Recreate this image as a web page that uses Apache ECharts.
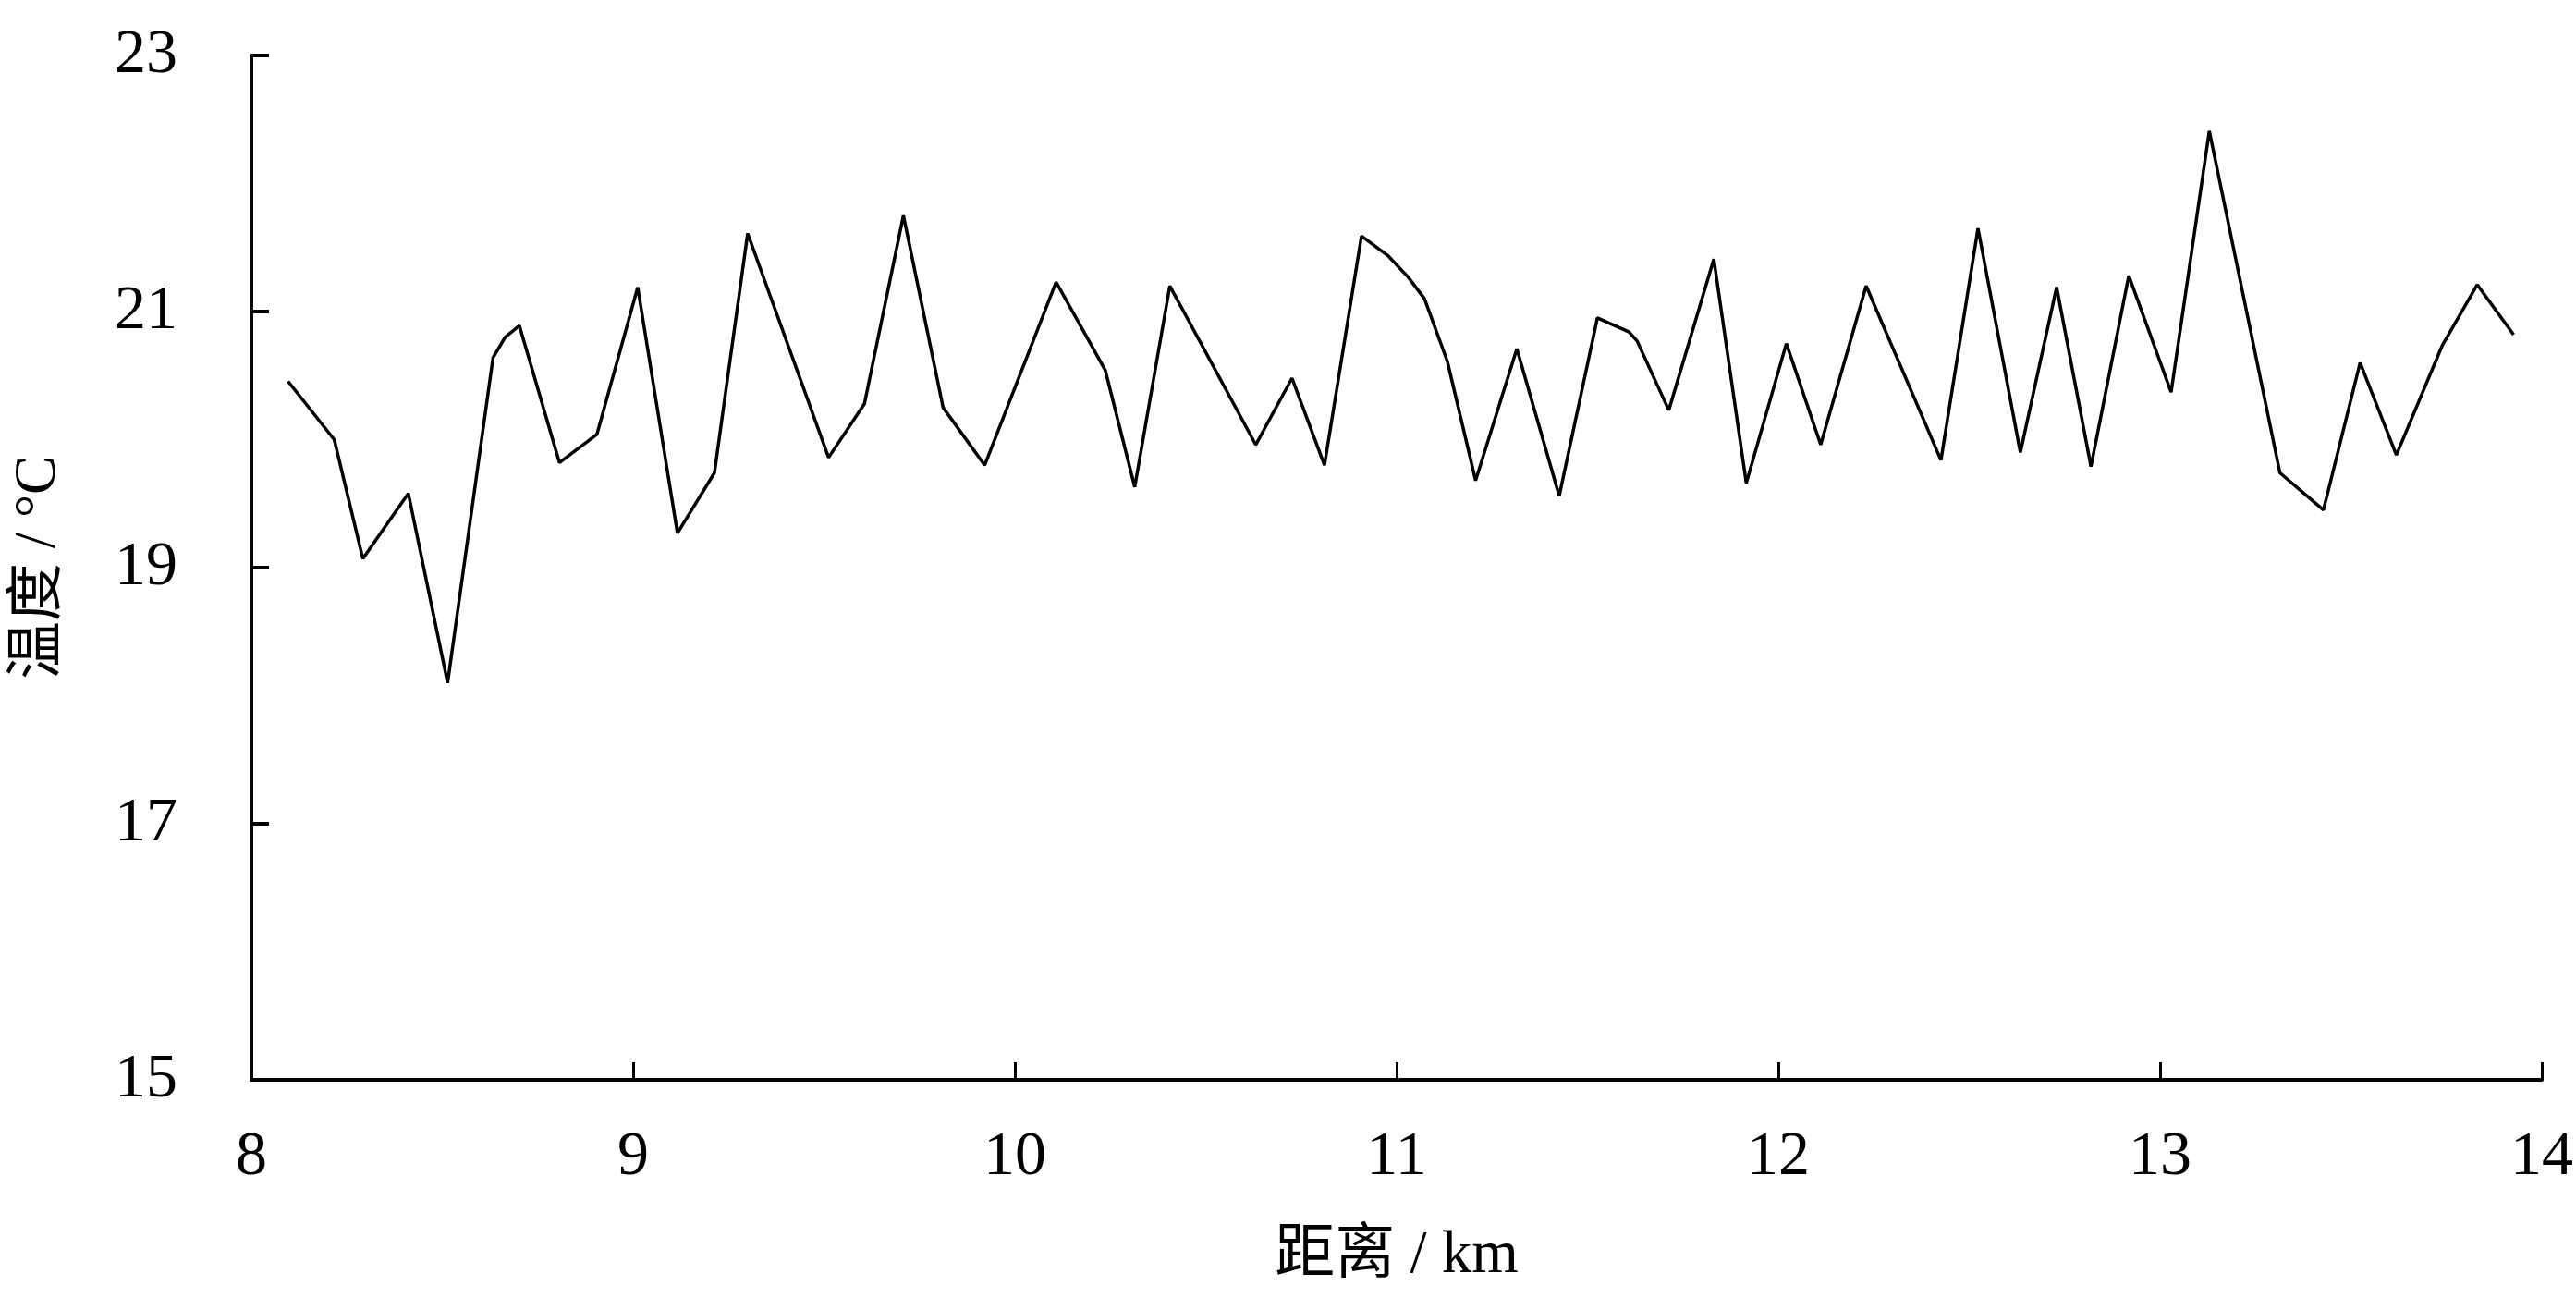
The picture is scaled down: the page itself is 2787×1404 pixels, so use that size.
<!DOCTYPE html>
<html>
<head>
<meta charset="utf-8">
<script src="https://cdn.jsdelivr.net/npm/echarts@6/dist/echarts.min.js"></script>
<style>
html,body{margin:0;padding:0;background:#fff;}
#chart{width:2787px;height:1404px;}
</style>
</head>
<body>
<div id="chart"></div>
<script>
const distance = [8.096, 8.217, 8.292, 8.411, 8.514, 8.633, 8.665, 8.702, 8.807, 8.905,
  9.012, 9.116, 9.213, 9.300, 9.512, 9.606, 9.708, 9.812, 9.921, 10.108,
  10.237, 10.314, 10.406, 10.631, 10.726, 10.811, 10.908, 10.976, 11.030, 11.073,
  11.133, 11.207, 11.315, 11.426, 11.526, 11.609, 11.630, 11.713, 11.831, 11.916,
  12.021, 12.111, 12.230, 12.426, 12.523, 12.634, 12.729, 12.819, 12.918, 13.029,
  13.129, 13.314, 13.428, 13.524, 13.619, 13.740, 13.831, 13.926];
const temperature = [20.455, 20.00, 19.07, 19.58, 18.10, 20.64, 20.80, 20.89, 19.82, 20.04,
  21.19, 19.27, 19.74, 21.61, 19.86, 20.28, 21.75, 20.25, 19.80, 21.23,
  20.54, 19.63, 21.20, 19.96, 20.48, 19.80, 21.59, 21.44, 21.27, 21.10,
  20.61, 19.68, 20.71, 19.56, 20.95, 20.84, 20.77, 20.23, 21.41, 19.66,
  20.75, 19.96, 21.20, 19.84, 21.65, 19.90, 21.19, 19.79, 21.28, 20.37,
  22.41, 19.74, 19.45, 20.60, 19.88, 20.74, 21.21, 20.82];
const xName = '距离 / km';
const yName = '温度 / °C';

const FONT = "'Liberation Serif', 'Times New Roman', 'Noto Sans CJK SC', serif";
const chart = echarts.init(document.getElementById('chart'));
chart.setOption({
  animation: false,
  backgroundColor: '#ffffff',
  grid: {left: 272, right: 34, top: 60, bottom: 236, containLabel: false},
  xAxis: {
    type: 'value', min: 8, max: 14, interval: 1,
    name: xName, nameLocation: 'middle', nameGap: 158,
    nameTextStyle: {fontFamily: FONT, fontSize: 65, color: '#000'},
    axisLine: {show: true, lineStyle: {color: '#000', width: 4}},
    axisTick: {show: true, inside: true, length: 19, lineStyle: {color: '#000', width: 3}},
    axisLabel: {fontFamily: FONT, fontSize: 68, color: '#000', margin: 50},
    splitLine: {show: false}
  },
  yAxis: {
    type: 'value', min: 15, max: 23, interval: 2,
    name: yName, nameLocation: 'middle', nameGap: 198,
    nameTextStyle: {fontFamily: FONT, fontSize: 63, color: '#000'},
    axisLine: {show: true, onZero: false, lineStyle: {color: '#000', width: 4}},
    axisTick: {show: true, inside: true, length: 19, lineStyle: {color: '#000', width: 4}},
    axisLabel: {fontFamily: FONT, fontSize: 68, color: '#000', margin: 80, padding: [0, 0, 26, 0]},
    splitLine: {show: false}
  },
  series: [{
    type: 'line',
    data: distance.map((d, i) => [d, temperature[i]]),
    showSymbol: false,
    symbol: 'none',
    lineStyle: {color: '#000', width: 3.5},
    itemStyle: {color: '#000'}
  }]
});
</script>
</body>
</html>
